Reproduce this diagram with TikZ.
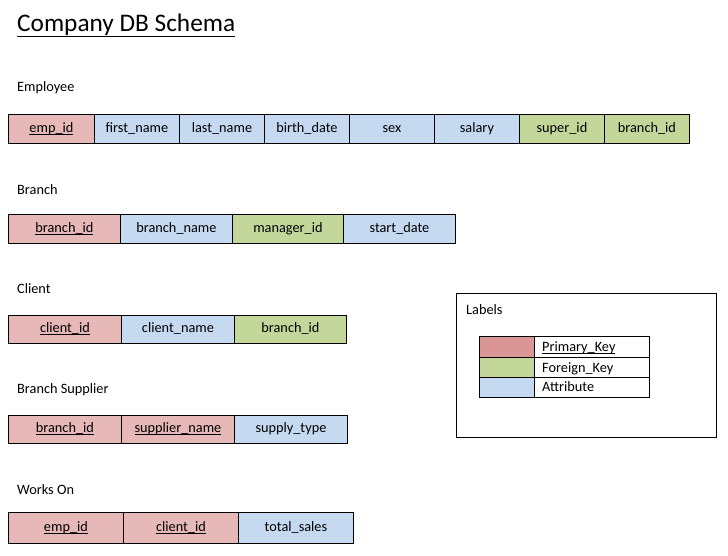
\documentclass[tikz,border=0pt]{standalone}
\usepackage{fontspec}
\setmainfont{Carlito}
\newcommand\ulx[1]{\setbox0\hbox{#1}\rlap{\rule[-2.4pt]{\wd0}{0.75pt}}\box0}
\begin{document}
\begin{tikzpicture}[x=1pt,y=-1pt,
  cell/.style={draw=black,line width=0.9pt,rectangle,inner sep=0pt,anchor=north west,text height=9.8pt,text depth=3.2pt,font=\fontsize{14.3}{17}\selectfont},
  pkcell/.style={cell,fill=pkc},
  fkcell/.style={cell,fill=fkc},
  atcell/.style={cell,fill=atc},
  lbl/.style={anchor=west,inner sep=0pt,text height=9.8pt,text depth=3.2pt,font=\fontsize{14.3}{17}\selectfont},
  leg/.style={draw=black,line width=0.9pt,rectangle,inner sep=0pt,anchor=north west}]
\definecolor{pkc}{HTML}{E6B8B7}
\definecolor{fkc}{HTML}{C4D79B}
\definecolor{atc}{HTML}{C5D9F1}
\definecolor{pkl}{HTML}{DA9694}
\useasboundingbox[fill=white] (0,0) rectangle (728,555);
% title
\node[anchor=base west,inner sep=0pt,font=\fontsize{25.3}{28}\selectfont] (title) at (17,31) {\underline{Company DB Schema}};
% Employee
\node[lbl] (lemp) at (17,88) {Employee};
\node[pkcell,minimum width=86,minimum height=29] (e1) at (8,114) {\ulx{emp\_id}};
\node[atcell,minimum width=85,minimum height=29] (e2) at (94,114) {first\_name};
\node[atcell,minimum width=85,minimum height=29] (e3) at (179,114) {last\_name};
\node[atcell,minimum width=85,minimum height=29] (e4) at (264,114) {birth\_date};
\node[atcell,minimum width=85,minimum height=29] (e5) at (349,114) {sex};
\node[atcell,minimum width=85,minimum height=29] (e6) at (434,114) {salary};
\node[fkcell,minimum width=85,minimum height=29] (e7) at (519,114) {super\_id};
\node[fkcell,minimum width=85,minimum height=29] (e8) at (604,114) {branch\_id};
% Branch
\node[lbl] (lbr) at (17,191) {Branch};
\node[pkcell,minimum width=112,minimum height=29] (b1) at (8,214) {\ulx{branch\_id}};
\node[atcell,minimum width=112,minimum height=29] (b2) at (120,214) {branch\_name};
\node[fkcell,minimum width=111,minimum height=29] (b3) at (232,214) {manager\_id};
\node[atcell,minimum width=112,minimum height=29] (b4) at (343,214) {start\_date};
% Client
\node[lbl] (lcl) at (17,290) {Client};
\node[pkcell,minimum width=113,minimum height=28] (c1) at (8,315) {\ulx{client\_id}};
\node[atcell,minimum width=113,minimum height=28] (c2) at (121,315) {client\_name};
\node[fkcell,minimum width=112,minimum height=28] (c3) at (234,315) {branch\_id};
% Branch Supplier
\node[lbl] (lbs) at (17,390) {Branch Supplier};
\node[pkcell,minimum width=113,minimum height=28] (s1) at (8,415) {\ulx{branch\_id}};
\node[pkcell,minimum width=113,minimum height=28] (s2) at (121,415) {\ulx{supplier\_name}};
\node[atcell,minimum width=113,minimum height=28] (s3) at (234,415) {supply\_type};
% Works On
\node[lbl] (lwo) at (17,491) {Works On};
\node[pkcell,minimum width=115,minimum height=31] (w1) at (8,512) {\ulx{emp\_id}};
\node[pkcell,minimum width=115,minimum height=31] (w2) at (123,512) {\ulx{client\_id}};
\node[atcell,minimum width=115,minimum height=31] (w3) at (238,512) {total\_sales};
% Legend
\node[leg,minimum width=260,minimum height=144] (legbox) at (456,293) {};
\node[lbl] (leglbl) at (466,311) {Labels};
\node[leg,fill=pkl,minimum width=55,minimum height=21] (lp) at (479,336) {};
\node[leg,fill=fkc,minimum width=55,minimum height=20] (lf) at (479,357) {};
\node[leg,fill=atc,minimum width=55,minimum height=20] (la) at (479,377) {};
\node[leg,minimum width=115,minimum height=21] (tp) at (534,336) {};
\node[leg,minimum width=115,minimum height=20] (tf) at (534,357) {};
\node[leg,minimum width=115,minimum height=20] (ta) at (534,377) {};
\node[lbl] (tpt) at ([xshift=8pt,yshift=-1.5pt]tp.west) {\ulx{Primary\_Key}};
\node[lbl] (tft) at ([xshift=8pt,yshift=-1.5pt]tf.west) {Foreign\_Key};
\node[lbl] (tat) at ([xshift=8pt,yshift=-1pt]ta.west) {Attribute};
\end{tikzpicture}
\end{document}
